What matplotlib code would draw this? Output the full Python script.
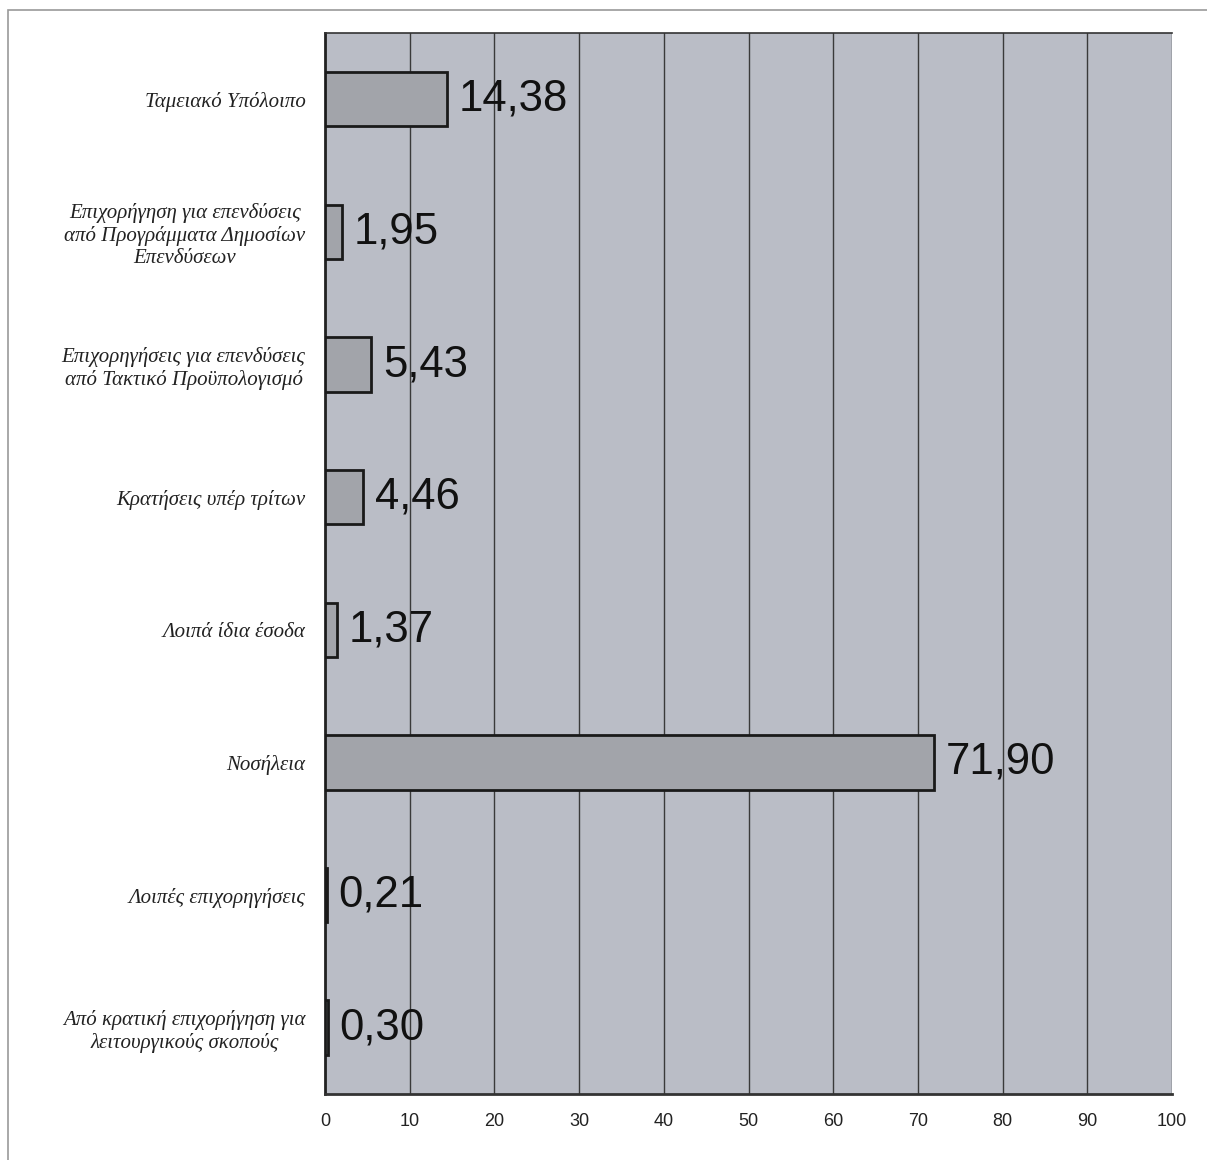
import numpy as np
from matplotlib import pyplot as plt
from matplotlib.patches import Rectangle

# categories from top to bottom
categories = [
    'Ταμειακό Υπόλοιπο',
    'Επιχορήγηση για επενδύσεις\nαπό Προγράμματα Δημοσίων\nΕπενδύσεων',
    'Επιχορηγήσεις για επενδύσεις\nαπό Τακτικό Προϋπολογισμό',
    'Κρατήσεις υπέρ τρίτων',
    'Λοιπά ίδια έσοδα',
    'Νοσήλεια',
    'Λοιπές επιχορηγήσεις',
    'Από κρατική επιχορήγηση για\nλειτουργικούς σκοπούς',
]
values = [14.38, 1.95, 5.43, 4.46, 1.37, 71.90, 0.21, 0.30]
xticks = [0, 10, 20, 30, 40, 50, 60, 70, 80, 90, 100]

fig = plt.figure(figsize=(12.07, 11.6), dpi=100)
ax = fig.add_axes([0.2693, 0.0569, 0.7018, 0.9147])
ax.set_facecolor('#babdc6')

# light frame around the whole chart (top and left edges visible)
fig.patches.append(Rectangle((0.007, -0.05), 1.1, 0.9914 + 0.05,
                             transform=fig.transFigure, fill=False,
                             edgecolor='#9a9a9a', linewidth=1.2))

ypos = np.arange(len(categories))
ax.barh(ypos, values, height=0.41, color='#a2a4aa', edgecolor='#1a1a1a',
        linewidth=2.0, zorder=3)

for y, v in zip(ypos, values):
    ax.text(v + 1.4, y, f'{v:.2f}'.replace('.', ','), va='center', ha='left',
            fontsize=31.5, family='Liberation Sans', color='#111111', zorder=4)

ax.set_xlim(0, 100)
ax.set_ylim(len(categories) - 0.5, -0.5)
ax.set_xticks(xticks)
ax.set_xticklabels([str(t) for t in xticks], fontsize=13, family='Liberation Sans',
                   color='#222222')
ax.set_yticks(ypos)
ax.set_yticklabels(categories, fontsize=15, family='Liberation Serif',
                   style='italic', multialignment='center', color='#222222')
ax.tick_params(axis='y', length=0, pad=14)
ax.tick_params(axis='x', length=0, pad=14)

ax.grid(axis='x', color='#3a3a3a', linewidth=1.0, zorder=1)
ax.set_axisbelow(True)
ax.spines['left'].set_linewidth(2.0)
ax.spines['left'].set_color('#222222')
ax.spines['bottom'].set_linewidth(2.0)
ax.spines['bottom'].set_color('#333333')
ax.spines['top'].set_linewidth(1.2)
ax.spines['top'].set_color('#333333')
ax.spines['right'].set_visible(False)

plt.savefig('out.png', dpi=100)
